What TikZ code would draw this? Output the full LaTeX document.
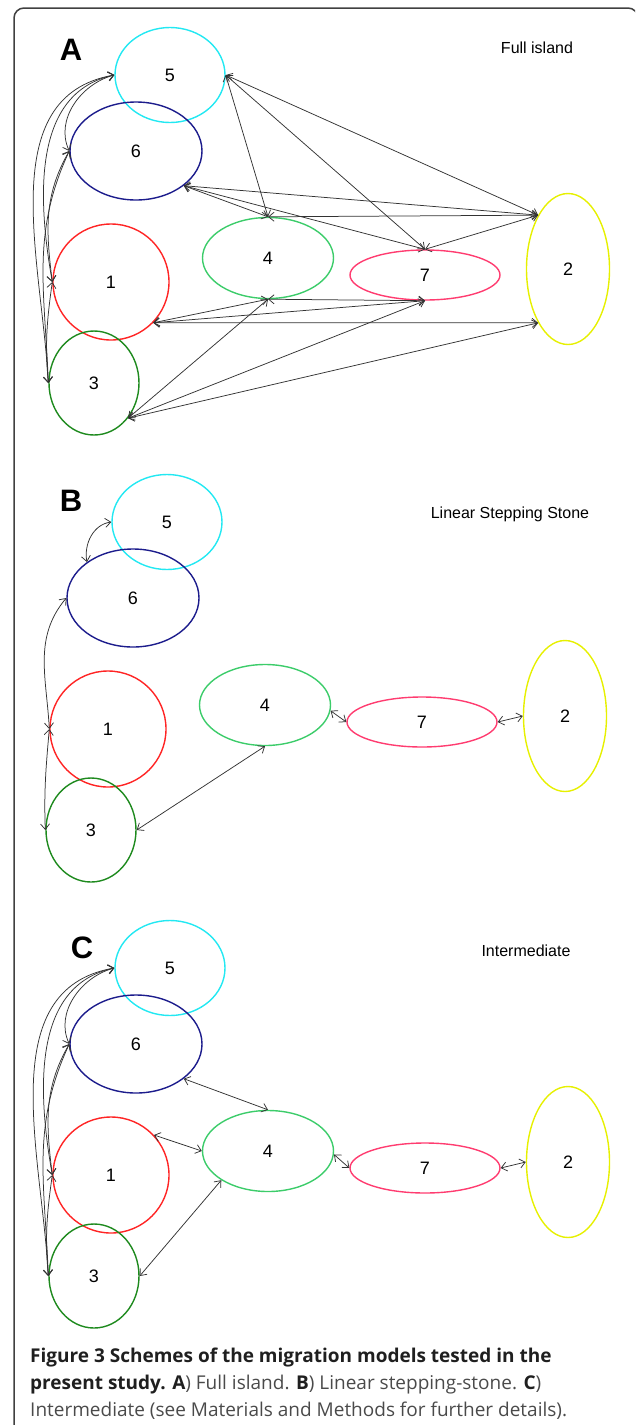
\documentclass[tikz,border=0pt]{standalone}
\usepackage{fontspec}
\setmainfont{Liberation Sans}
\newfontfamily\capfont{Open Sans}
\usetikzlibrary{arrows.meta,shapes.geometric}

\definecolor{isleCyan}{HTML}{22E8F2}
\definecolor{isleNavy}{HTML}{1C1C8C}
\definecolor{isleRed}{HTML}{FF2424}
\definecolor{isleDark}{HTML}{1E8A1E}
\definecolor{isleLight}{HTML}{3CCC6A}
\definecolor{islePink}{HTML}{FF3C70}
\definecolor{isleYellow}{HTML}{E6F000}
\definecolor{capgray}{HTML}{4A4A4A}

\tikzset{
  isle/.style={ellipse, draw, line width=1.4pt, inner sep=0pt,
    font=\fontsize{18}{18}\selectfont},
  link/.style={draw=black!80, line width=0.75pt,
    {Straight Barb[length=5.5pt,width=9pt]}-{Straight Barb[length=5.5pt,width=9pt]}},
  paneltag/.style={font=\bfseries\fontsize{31}{31}\selectfont},
  modelname/.style={font=\fontsize{16}{16}\selectfont},
  captext/.style={anchor=base west, inner sep=0pt,
    font=\capfont\fontsize{19}{19}\selectfont, text=capgray},
}

% the seven populations, positioned for one panel
\newcommand\islandset[1]{%
  \node[isle, draw=isleCyan,   minimum width=110pt, minimum height=95pt]  (#15) at (170,-75)  {5};
  \node[isle, draw=isleNavy,   minimum width=132pt, minimum height=98pt]  (#16) at (136,-151) {6};
  \node[isle, draw=isleRed,    minimum width=116pt, minimum height=116pt] (#11) at (111,-282) {1};
  \node[isle, draw=isleDark,   minimum width=90pt,  minimum height=104pt] (#13) at (94,-383)  {3};
  \node[isle, draw=isleLight,  minimum width=131pt, minimum height=81pt]  (#14) at (268,-258) {4};
  \node[isle, draw=islePink,   minimum width=150pt, minimum height=50pt]  (#17) at (425,-275) {7};
  \node[isle, draw=isleYellow, minimum width=83pt,  minimum height=151pt] (#12) at (568,-269) {2};
}

% curved exchanges among populations 5, 6, 1 and 3 along the left side
\newcommand\leftfan[1]{%
  \draw[link] (#15.west) to[out=195,in=115] (#16.west);
  \draw[link] (#15.west) to[out=192,in=100] (#11.west);
  \draw[link] (#15.west) to[out=190,in=93]  (#13.west);
  \draw[link] (#16.west) to[out=240,in=97]  (#11.west);
  \draw[link] (#16.west) to[out=245,in=92]  (#13.west);
  \draw[link] (#11.west) to[out=262,in=95]  (#13.west);
}

\begin{document}
\begin{tikzpicture}[x=1pt,y=1pt]
\useasboundingbox (0,0) rectangle (635,-1425);

% outer frame
\begin{scope}
  \clip (0,0) rectangle (635,-1425);
  \draw[line width=1.5pt, black!75, rounded corners=10pt]
    (14,-1440) -- (14,-8) -- (638,-8) -- (638,-1440);
\end{scope}

% ---------------- A: full island ----------------
\node[paneltag] (tagA) at (71,-50) {A};
\node[modelname] (nameA) at (537,-48) {Full island};
\islandset{a}
\leftfan{a}
\draw[link] (a5.east) -- (a4.north);
\draw[link] (a5.east) -- (a7.north);
\draw[link] (a5.east) -- (a2.119);
\draw[link] (a6.-36) -- (a4.north);
\draw[link] (a6.-36) -- (a7.north);
\draw[link] (a6.-36) -- (a2.119);
\draw[link] (a4.north) -- (a2.119);
\draw[link] (a7.north) -- (a2.119);
\draw[link] (a4.south) -- (a7.south);
\draw[link] (a4.south) -- (a1.-44);
\draw[link] (a4.south) -- (a3.-46);
\draw[link] (a1.-44) -- (a7.south);
\draw[link] (a1.-44) -- (a2.241);
\draw[link] (a3.-46) -- (a7.south);
\draw[link] (a3.-46) -- (a2.241);

% ---------------- B: linear stepping stone ----------------
\node[paneltag] (tagB) at (71,-501) {B};
\node[modelname] (nameB) at (510,-514) {Linear Stepping Stone};
\begin{scope}[shift={(-3,-447)}]
  \islandset{b}
\end{scope}
\draw[link] (b5.west) to[out=188,in=100] (b6.142);
\draw[link] (b6.west) to[out=230,in=93] (b1.west);
\draw[link] (b1.west) to[out=265,in=92] (b3.west);
\draw[link] (b4.south) -- (b3.east);
\draw[link] (b4.-5) -- (b7.west);
\draw[link] (b7.east) -- (b2.west);

% ---------------- C: intermediate ----------------
\node[paneltag] (tagC) at (82,-948) {C};
\node[modelname] (nameC) at (526,-951) {Intermediate};
\begin{scope}[shift={(0,-893)}]
  \islandset{c}
\end{scope}
\leftfan{c}
\draw[link] (c6.-36) -- (c4.north);
\draw[link] (c1.43) -- (c4.west);
\draw[link] (c3.east) -- (c4.212);
\draw[link] (c4.-3) -- (c7.west);
\draw[link] (c7.east) -- (c2.west);

% ---------------- caption ----------------
\node[captext] (cap1) at (30,-1362)
  {\textbf{\color{black!88}Figure 3 Schemes of the migration models tested in the}};
\node[captext] (cap2) at (30,-1389)
  {\textbf{\color{black!88}present study. A}) Full island. \textbf{\color{black!88}B}) Linear stepping-stone. \textbf{\color{black!88}C})};
\node[captext] (cap3) at (30,-1416)
  {Intermediate (see Materials and Methods for further details).};
\end{tikzpicture}
\end{document}
